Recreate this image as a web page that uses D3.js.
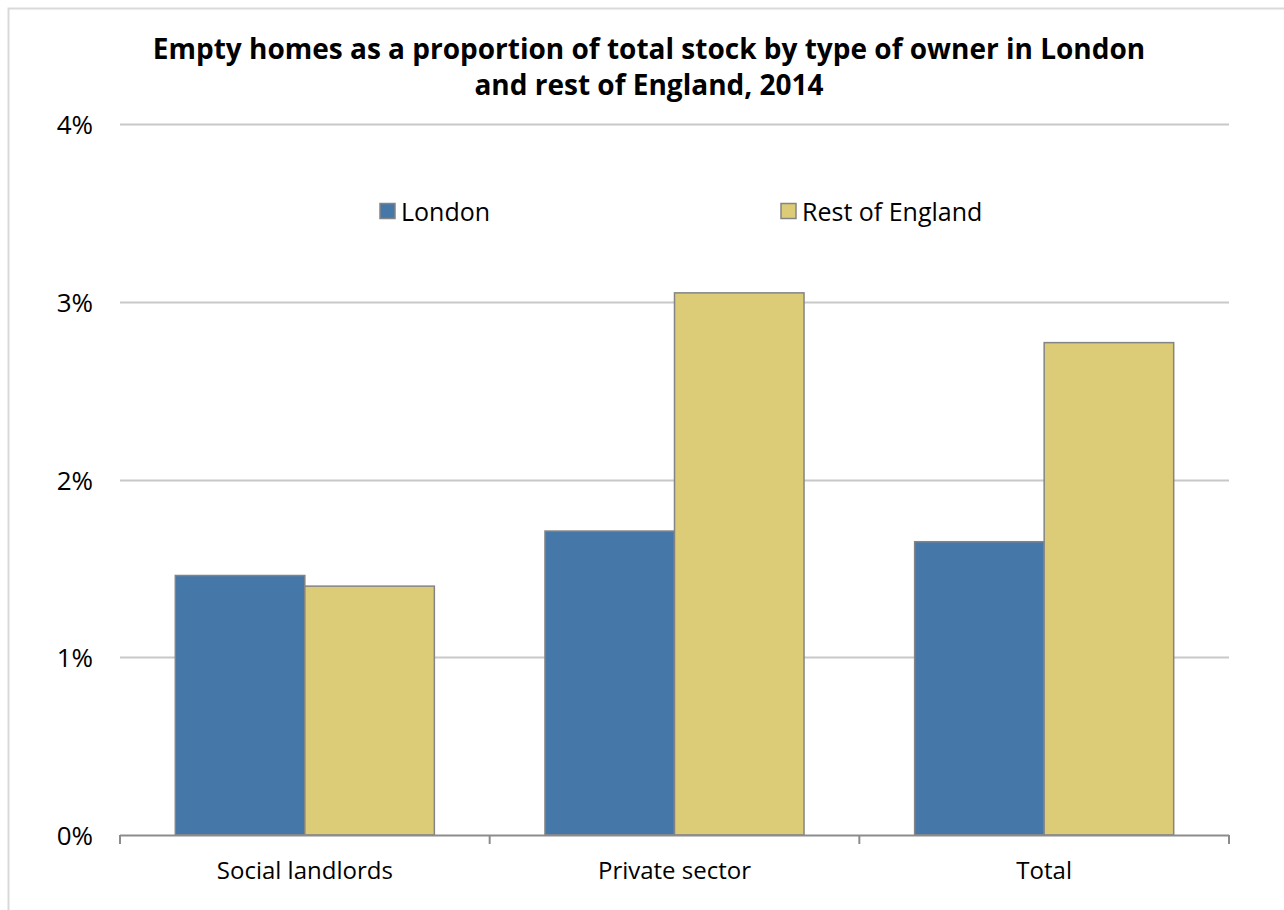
<!DOCTYPE html>
<html>
<head>
<meta charset="utf-8">
<script src="https://cdn.jsdelivr.net/npm/d3@7"></script>
<style>
  html, body { margin: 0; padding: 0; background: #fff; }
  svg { display: block; }
  text { font-family: "Open Sans", "Noto Sans", sans-serif; fill: #000; }
</style>
</head>
<body>
<svg id="chart" width="1284" height="910"></svg>
<script>
const categories = ["Social landlords", "Private sector", "Total"];
const seriesNames = ["London", "Rest of England"];
const londonValues = [1.46, 1.71, 1.65];
const restValues = [1.40, 3.05, 2.77];
const yTicks = [0, 1, 2, 3, 4];
const titleLines = ["Empty homes as a proportion of total stock by type of owner in London", "and rest of England, 2014"];
const colors = ["#4577a9", "#dccc78"];

const svg = d3.select("#chart");
const W = 1284, H = 910;

// frame
svg.append("path")
  .attr("d", `M8.5,${H} V8.5 H${W}`)
  .attr("fill", "none").attr("stroke", "#d9d9d9").attr("stroke-width", 2);

const x0 = d3.scaleBand().domain(categories).range([120, 1229]).paddingInner(0).paddingOuter(0);
const x1 = d3.scaleBand().domain(seriesNames).range([0, x0.bandwidth()]).paddingInner(0).paddingOuter(0.427);
const y = d3.scaleLinear().domain([0, 4]).range([835, 124]);

// gridlines
svg.append("g").selectAll("line").data(yTicks.filter(d => d > 0)).join("line")
  .attr("x1", 120).attr("x2", 1229)
  .attr("y1", d => Math.round(y(d)) + 0.5).attr("y2", d => Math.round(y(d)) + 0.5)
  .attr("stroke", "#c8c8c8").attr("stroke-width", 2);

// y labels
svg.append("g").selectAll("text").data(yTicks).join("text")
  .attr("x", 93).attr("y", d => y(d))
  .attr("text-anchor", "end").attr("dominant-baseline", "central")
  .style("font-size", "26px")
  .text(d => d + "%");

// bars
const data = categories.map((c, i) => ({ cat: c, vals: [londonValues[i], restValues[i]] }));
const groups = svg.append("g").selectAll("g").data(data).join("g")
  .attr("transform", d => `translate(${x0(d.cat)},0)`);
groups.selectAll("rect").data(d => d.vals.map((v, j) => ({ s: seriesNames[j], v, j }))).join("rect")
  .attr("x", d => x1(d.s))
  .attr("width", x1.bandwidth())
  .attr("y", d => y(d.v))
  .attr("height", d => y(0) - y(d.v))
  .attr("fill", d => colors[d.j])
  .attr("stroke", "#848484").attr("stroke-width", 1.5);

// x axis
const gx = svg.append("g").attr("transform", "translate(0,835)");
gx.append("line").attr("x1", 120).attr("x2", 1229).attr("y1", 0.5).attr("y2", 0.5)
  .attr("stroke", "#8c8c8c").attr("stroke-width", 2);
const tickXs = [x0.range()[0]].concat(categories.map(c => x0(c) + x0.bandwidth()));
gx.selectAll("line.tick").data(tickXs).join("line").attr("class", "tick")
  .attr("x1", d => d).attr("x2", d => d).attr("y1", 0).attr("y2", 9)
  .attr("stroke", "#8c8c8c").attr("stroke-width", 2);
gx.selectAll("text.cat").data(categories).join("text").attr("class", "cat")
  .attr("x", d => x0(d) + x0.bandwidth() / 2).attr("y", 34)
  .attr("text-anchor", "middle").attr("dominant-baseline", "central")
  .style("font-size", "24px")
  .text(d => d);

// title
svg.append("g").selectAll("text").data(titleLines).join("text")
  .attr("x", 649).attr("y", (d, i) => 48 + i * 36)
  .attr("text-anchor", "middle").attr("dominant-baseline", "central")
  .style("font-size", "28px").style("font-weight", "bold")
  .text(d => d);

// legend
const legendX = [380, 781];
const lg = svg.append("g").selectAll("g").data(seriesNames).join("g")
  .attr("transform", (d, i) => `translate(${legendX[i]},211)`);
lg.append("rect").attr("x", 0).attr("y", -7.5).attr("width", 15).attr("height", 15)
  .attr("fill", (d, i) => colors[i]).attr("stroke", "#848484").attr("stroke-width", 1.5);
lg.append("text").attr("x", 21).attr("y", 0).attr("dominant-baseline", "central")
  .style("font-size", "25px").text(d => d);
</script>
</body>
</html>
